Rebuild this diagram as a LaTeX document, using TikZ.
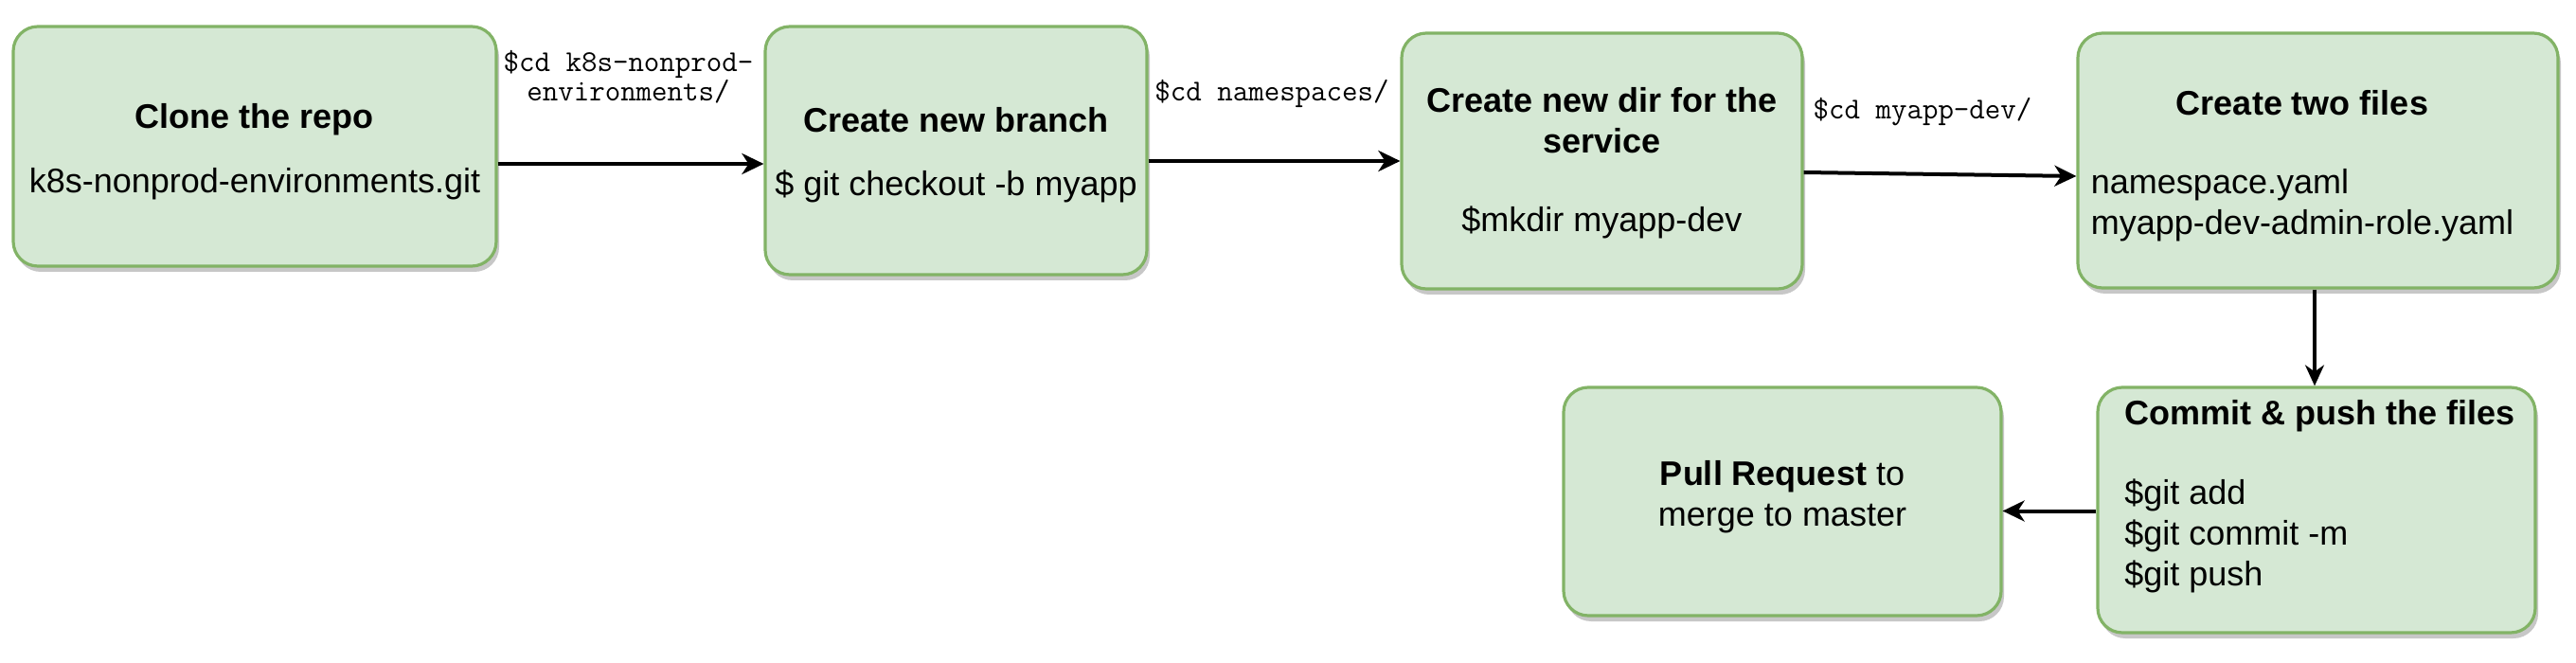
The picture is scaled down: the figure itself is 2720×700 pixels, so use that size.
\documentclass[tikz,border=0pt]{standalone}
\usepackage{fontspec}
\setmainfont{Liberation Sans}
\usetikzlibrary{arrows.meta,shadows,calc}
\definecolor{boxfill}{HTML}{D5E8D4}
\definecolor{boxline}{HTML}{82B366}
\begin{document}
\begin{tikzpicture}[x=0.5pt,y=-0.5pt,
  stepbox/.style={draw=boxline, fill=boxfill, line width=1.6pt, rounded corners=13pt,
    drop shadow={shadow xshift=1.5pt, shadow yshift=-3pt, fill=black!22, opacity=1},
    inner sep=0pt},
  txt/.style={font=\fontsize{18}{21.5}\selectfont, inner sep=0pt, align=center},
  lbl/.style={font=\ttfamily\fontsize{16}{15.5}\selectfont, inner sep=0pt, align=center},
  arr/.style={line width=2pt, -{Stealth[length=11.5pt,width=11pt,inset=3.5pt]}},
  thinarr/.style={line width=1.6pt, -{Stealth[length=11pt,width=10pt,inset=3.5pt]}}
]
\useasboundingbox (0,0) rectangle (2720,700);

% boxes
\node[stepbox, minimum width=255pt, minimum height=126.5pt] (b1) at (269,154.5) {};
\node[stepbox, minimum width=201.5pt, minimum height=131pt] (b2) at (1009.5,159) {};
\node[stepbox, minimum width=211.5pt, minimum height=135pt] (b3) at (1691.5,170) {};
\node[stepbox, minimum width=253.5pt, minimum height=134.5pt] (b4) at (2447.5,169.5) {};
\node[stepbox, minimum width=231pt, minimum height=129.5pt] (b5) at (2446,538.5) {};
\node[stepbox, minimum width=231pt, minimum height=120.5pt] (b6) at (1882,529.5) {};

% texts
\node[txt] (t1) at (269,160) {\textbf{Clone the repo}\\[12.5pt]k8s-nonprod-environments.git};
\node[txt] (t2) at (1009.5,164) {\textbf{Create new branch}\\[12pt]\$ git checkout -b myapp};
\node[txt] (t3) at (1691.5,172) {\textbf{Create new dir for the}\\\textbf{service}\\[20pt]\$mkdir myapp-dev};
\node[txt] (t4) at (2431,176) {\begin{tabular}{@{}l@{}}\multicolumn{1}{@{}c@{}}{\textbf{Create two files}}\\[20pt]namespace.yaml\\myapp-dev-admin-role.yaml\end{tabular}};
\node[txt, align=left, anchor=west] (t5) at (2243,524) {\textbf{Commit \& push the files}\\[20.5pt]\$git add\\\$git commit -m\\\$git push};
\node[txt] (t6) at (1882,525) {\textbf{Pull Request} to\\merge to master};

% connectors
\draw[arr] (b1.east |- 0,173) -- (b2.west |- 0,173);
\draw[arr] (b2.east |- 0,170) -- (b3.west |- 0,170);
\draw[arr] (b3.east |- 0,182) -- (b4.west |- 0,186);
\draw[thinarr] (b4.south -| 2444,0) -- (b5.north -| 2444,0);
\draw[arr] (b5.west |- 0,539.5) -- (b6.east |- 0,539.5);

% connector labels
\node[lbl] (l1) at (663.5,81.5) {\$cd k8s-nonprod-\\environments/};
\node[lbl] (l2) at (1343,99) {\$cd namespaces/};
\node[lbl] (l3) at (2030,118) {\$cd myapp-dev/};
\end{tikzpicture}
\end{document}
